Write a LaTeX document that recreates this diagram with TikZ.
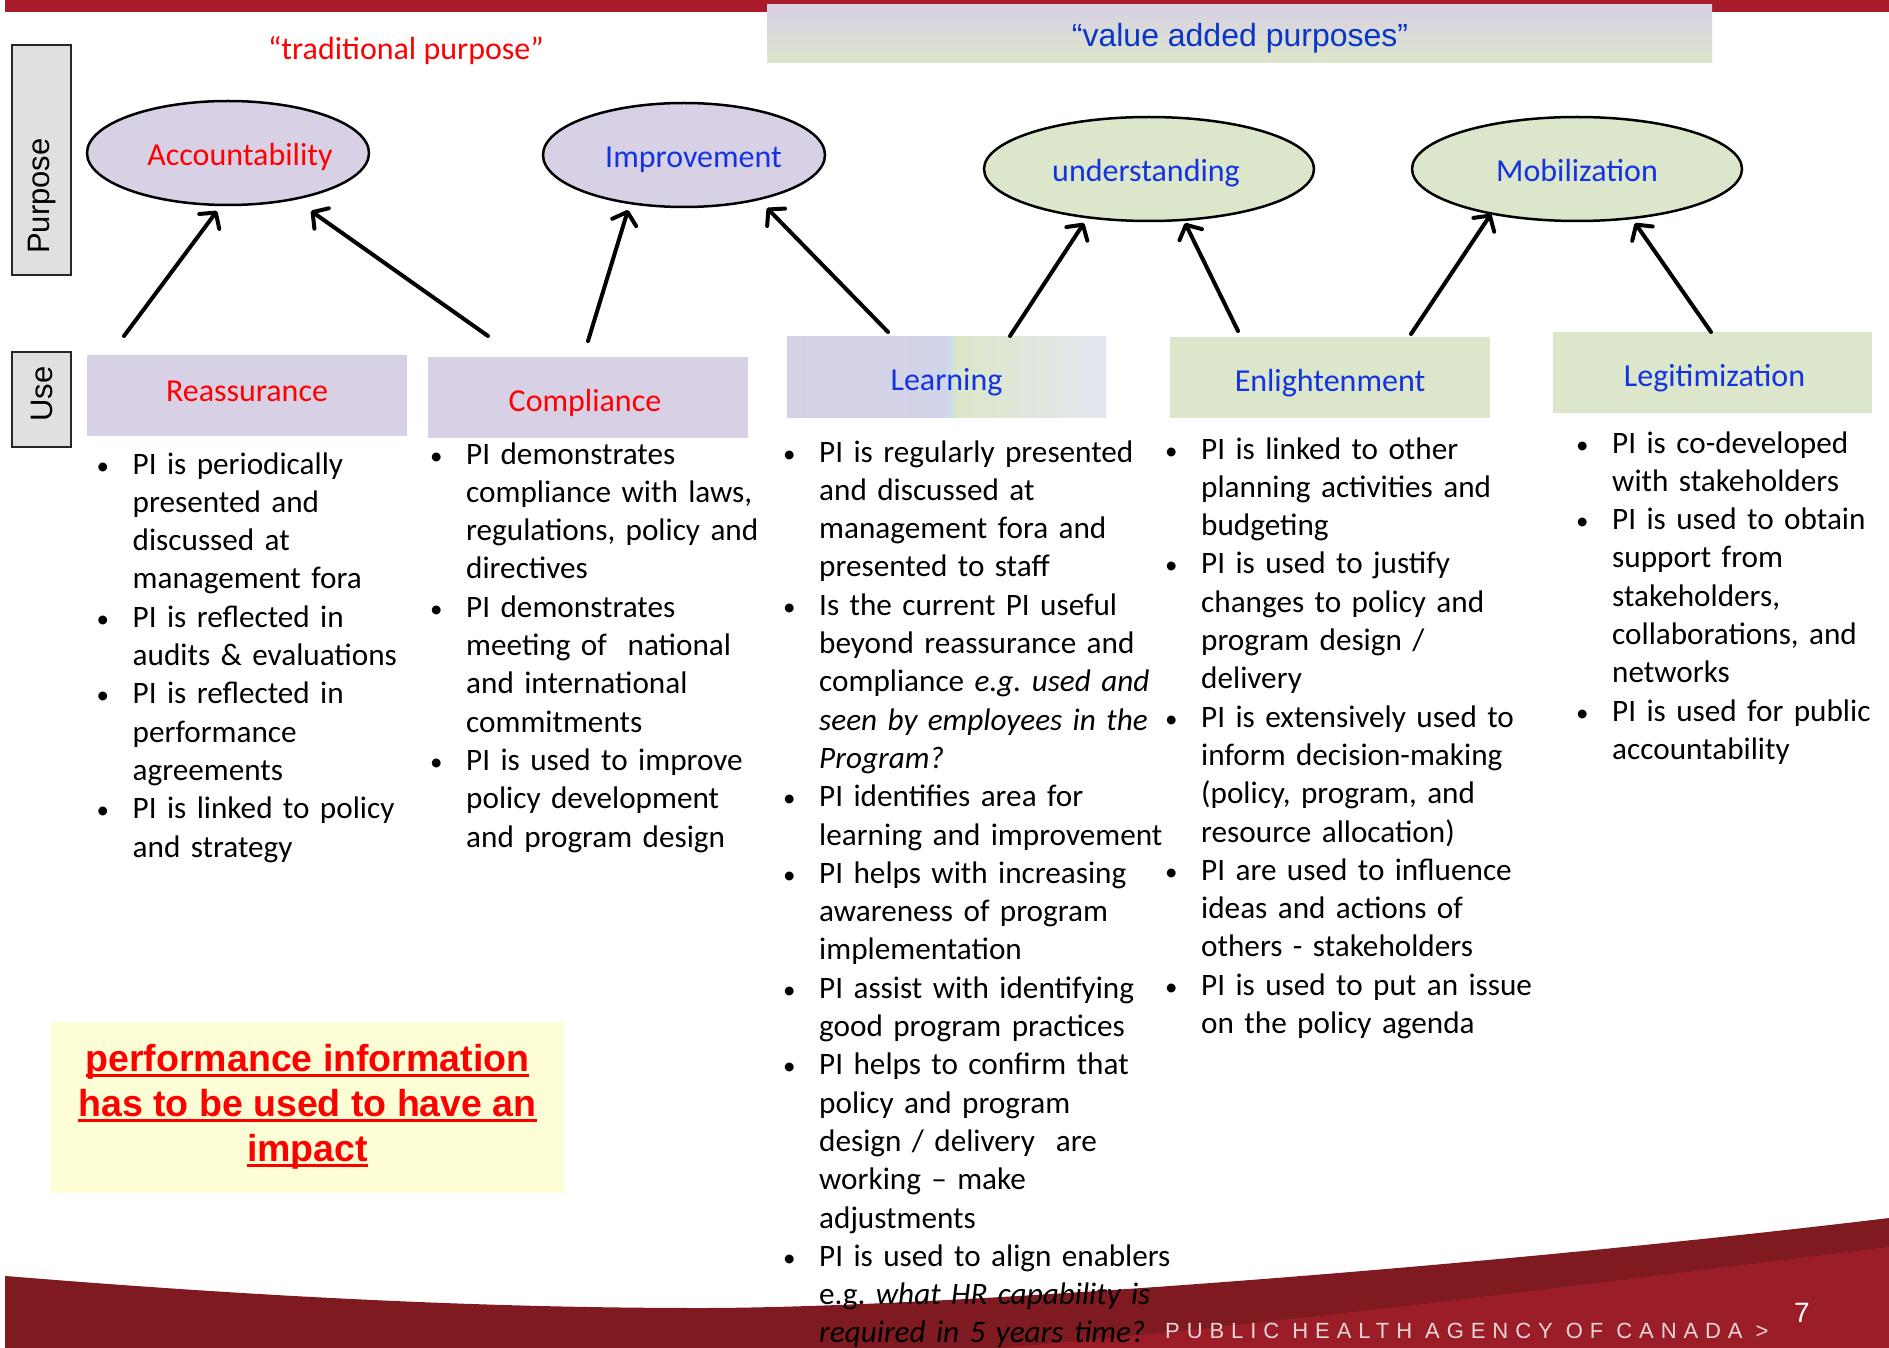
\documentclass[tikz,border=0pt]{standalone}
\usepackage{fontspec}
\usepackage{graphicx}
\setmainfont{Carlito}
\newfontfamily\arialf{Liberation Sans}
\newfontfamily\footf[LetterSpace=31.5]{Liberation Sans}
\usetikzlibrary{arrows.meta,shapes.geometric,calc}
\definecolor{lav}{HTML}{D8D0E4}
\definecolor{grn}{HTML}{DCE6CA}
\definecolor{lblue}{HTML}{CCD8EE}
\definecolor{gblue}{HTML}{E2E7F0}
\definecolor{lblu}{HTML}{1433E0}
\definecolor{vblu}{HTML}{0A36C8}
\definecolor{lred}{HTML}{FF0000}
\definecolor{barred}{HTML}{A91A2A}
\definecolor{ylw}{HTML}{FEFED6}
\definecolor{greybox}{HTML}{E0E0E0}
\definecolor{darkred}{HTML}{7E1A20}
\definecolor{midred}{HTML}{B2202D}
\definecolor{brred}{HTML}{A41F2B}
\definecolor{foottxt}{HTML}{EBD6D8}
\frenchspacing
\newcommand\bfs{\fontsize{31.2}{38.3}\selectfont}
\newcommand\bit[1]{\noindent\hangindent=33pt\hangafter=1\makebox[33pt][l]{\hspace*{-3pt}\scalebox{0.8}{\textbullet}}#1\par}
\newcommand\ulx[1]{\setbox0\hbox{#1}\rlap{\rule[-5pt]{\wd0}{3pt}}\box0}
\begin{document}
\begin{tikzpicture}[x=1pt,y=-1pt,
  purp/.style={ellipse, draw=black, line width=2.5pt, inner sep=0pt, minimum height=104pt, text height=28pt, text depth=2pt, font=\fontsize{32}{38}\selectfont},
  usebox/.style={rectangle, inner sep=0pt, minimum width=320pt, minimum height=81pt, text height=30pt, text depth=2pt, font=\fontsize{32}{38}\selectfont},
  sidebox/.style={rectangle, draw=black!85, line width=2pt, fill=greybox, inner sep=0pt, minimum width=59pt},
  col/.style={anchor=base west, inner sep=0pt, text width=430pt, align=left, font=\bfs},
  conn/.style={line width=4pt, line cap=round, -{Straight Barb[round,length=11pt,width=25pt]}}
]
\useasboundingbox (0,0) rectangle (1889,1348);
\fill[white] (0,0) rectangle (1889,1348);

% top bar
\fill[barred] (5,0) rectangle (1889,12);

% footer
\shade[left color=darkred, middle color=midred, right color=darkred]
  (5,1276) .. controls (250,1296) and (480,1308) .. (700,1308)
  .. controls (950,1308) and (1500,1265) .. (1889,1218) -- (1889,1348) -- (5,1348) -- cycle;
\fill[brred, opacity=0.75] (1000,1348) .. controls (1300,1322) and (1600,1282) .. (1889,1247) -- (1889,1348) -- cycle;
\fill[darkred, opacity=0.35] (5,1276) .. controls (150,1288) and (300,1298) .. (424,1303) -- (340,1348) -- (5,1348) -- cycle;

% value added banner
\shade[top color=lav, middle color=lblue, bottom color=grn] (767,5) rectangle (1712,63);
\node[anchor=base, font=\arialf\fontsize{32}{38}\selectfont, text=vblu] (vap) at (1240,47) {“value added purposes”};
\node[anchor=base, font=\fontsize{32}{38}\selectfont, text=lred] (trad) at (406,60) {“traditional purpose”};

% side labels
\node[sidebox, minimum height=230pt] (purposebox) at (41.5,160.5) {};
\node[rotate=90, font=\arialf\fontsize{31}{31}\selectfont, inner sep=0pt] (purposelbl) at (42,196) {Purpose};
\node[sidebox, minimum height=95pt] (usebox1) at (41,399) {};
\node[rotate=90, font=\arialf\fontsize{31}{31}\selectfont, inner sep=0pt] (uselbl) at (42,394) {Use};

% purposes
\node[purp, fill=lav, minimum width=282pt, text=lred] (acc) at (228,153) {\makebox[150pt][c]{\hspace*{24pt}Accountability}};
\node[purp, fill=lav, minimum width=282pt, text=lblu] (imp) at (684,155) {\makebox[150pt][c]{\hspace*{19pt}Improvement}};
\node[purp, fill=grn, minimum width=330pt, text=lblu] (und) at (1149,169) {\makebox[150pt][c]{understanding\hspace*{6pt}}};
\node[purp, fill=grn, minimum width=330pt, text=lblu] (mob) at (1577,169) {Mobilization};

% uses
\node[usebox, fill=lav, text=lred, text height=22pt, text depth=10pt] (reas) at (247,395.5) {Reassurance};
\node[usebox, fill=lav, text=lred] (comp) at (588,397) {Compliance\hspace*{6pt}};
\node[usebox, text=lblu, minimum width=319pt, path picture={
   \shade[left color=lav, right color=lblue] (path picture bounding box.south west) rectangle ($(path picture bounding box.north)+(0,0)$);
   \shade[left color=lblue, right color=grn] (path picture bounding box.south) rectangle ($(path picture bounding box.north)+(12,0)$);
   \shade[left color=grn, right color=gblue] ($(path picture bounding box.south)+(12,0)$) rectangle (path picture bounding box.north east);
 }] (learn) at (946.5,376.5) {Learning};
\node[usebox, fill=grn, text=lblu] (enl) at (1330,377.5) {Enlightenment};
\node[usebox, fill=grn, text=lblu, minimum width=319pt] (leg) at (1712.5,372.5) {\hspace*{4pt}Legitimization};

% arrows
\coordinate (a1s) at (124,336); \coordinate (a1e) at (217,211);
\coordinate (a2s) at (488,336); \coordinate (a2e) at (311,211);
\coordinate (a3s) at (588,341); \coordinate (a3e) at (628,210);
\coordinate (a4s) at (888,332); \coordinate (a4e) at (767,208);
\coordinate (a5s) at (1010,336); \coordinate (a5e) at (1084,223);
\coordinate (a6s) at (1238,331); \coordinate (a6e) at (1185,223);
\coordinate (a7s) at (1411,334); \coordinate (a7e) at (1491,214);
\coordinate (a8s) at (1711,332); \coordinate (a8e) at (1635,223);
\foreach \i in {1,...,8} { \draw[conn] (a\i s) -- (a\i e); }

% columns
\node[col] (c1) at (99.5,474) {%
\bit{PI is periodically\newline presented and\newline discussed at\newline management fora}
\bit{PI is reflected in\newline audits \& evaluations}
\bit{PI is reflected in\newline performance\newline agreements}
\bit{PI is linked to policy\newline and strategy}};

\node[col] (c2) at (433,464) {%
\bit{PI demonstrates\newline compliance with laws,\newline regulations, policy and\newline directives}
\bit{PI demonstrates\newline meeting of\ \ national\newline and international\newline commitments}
\bit{PI is used to improve\newline policy development\newline and program design}};

\node[col] (c3) at (786,462) {%
\bit{PI is regularly presented\newline and discussed at\newline management fora and\newline presented to staff}
\bit{Is the current PI useful\newline beyond reassurance and\newline compliance \textit{e.g. used and}\newline \textit{seen by employees in the}\newline \textit{Program?}}
\bit{PI identifies area for\newline learning and improvement}
\bit{PI helps with increasing\newline awareness of program\newline implementation}
\bit{PI assist with identifying\newline good program practices}
\bit{PI helps to confirm that\newline policy and program\newline design / delivery\ \ are\newline working – make\newline adjustments}
\bit{PI is used to align enablers\newline e.g. \textit{what HR capability is}\newline \textit{required in 5 years time?}}};

\node[col] (c4) at (1168,459) {%
\bit{PI is linked to other\newline planning activities and\newline budgeting}
\bit{PI is used to justify\newline changes to policy and\newline program design /\newline delivery}
\bit{PI is extensively used to\newline inform decision-making\newline (policy, program, and\newline resource allocation)}
\bit{PI are used to influence\newline ideas and actions of\newline others - stakeholders}
\bit{PI is used to put an issue\newline on the policy agenda}};

\node[col] (c5) at (1579,453) {%
\bit{PI is co-developed\newline with stakeholders}
\bit{PI is used to obtain\newline support from\newline stakeholders,\newline collaborations, and\newline networks}
\bit{PI is used for public\newline accountability}};

% yellow note
\node[fill=ylw, minimum width=513pt, minimum height=171pt, inner sep=0pt, align=center,
      text=lred, font=\arialf\bfseries\fontsize{37.5}{45}\selectfont] (note) at (307.5,1107)
  {\ulx{performance information}\\\ulx{has to be used to have an}\\\ulx{impact}\rule[-6pt]{0pt}{1pt}};

% footer text
\node[anchor=base west, inner sep=0pt, text=foottxt, font=\footf\fontsize{22}{22}\selectfont] (agency) at (1165,1338) {PUBLIC HEALTH AGENCY OF CANADA >};
\node[anchor=base, inner sep=0pt, text=white, font=\arialf\fontsize{28}{28}\selectfont] (pagenum) at (1802,1322) {7};
\end{tikzpicture}
\end{document}
